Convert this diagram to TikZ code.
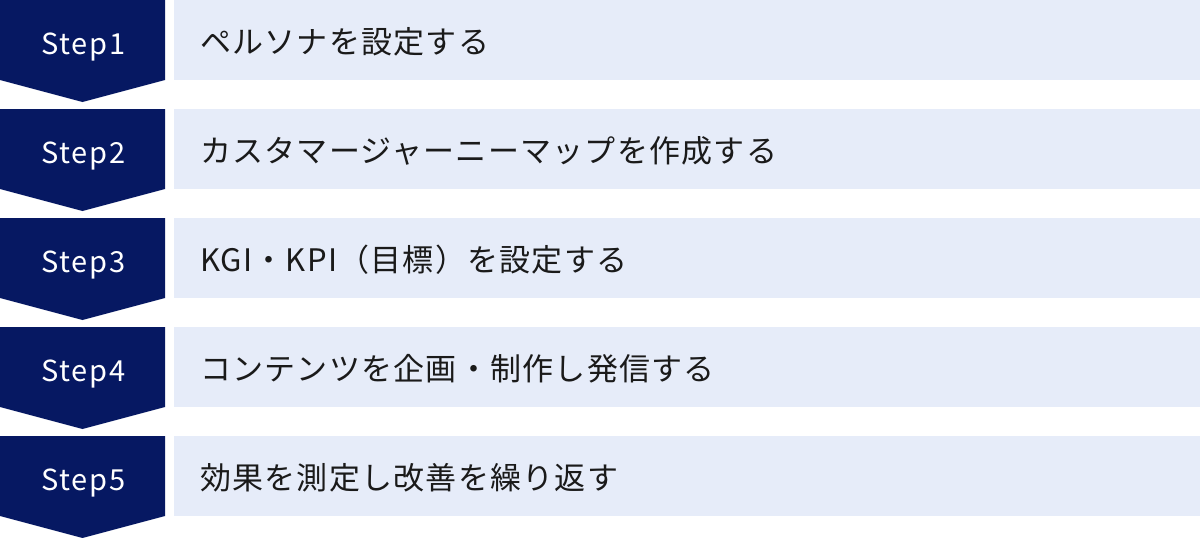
\documentclass[tikz,border=0pt]{standalone}
\usepackage{fontspec}
\newfontfamily\jpfont[LetterSpace=4]{Noto Sans CJK JP}
\newfontfamily\tagfont[LetterSpace=6]{Noto Sans CJK JP}
\usepackage{tikz}
\usetikzlibrary{positioning}

\definecolor{stepnavy}{RGB}{6,24,98}
\definecolor{boxblue}{RGB}{230,236,249}
\definecolor{inktext}{RGB}{26,26,26}

\tikzset{
  steptag/.style={text=white,inner sep=0pt,anchor=base,
    font=\tagfont\fontsize{29}{29}\selectfont},
  taskbox/.style={fill=boxblue,inner sep=0pt,anchor=north west,
    minimum width=1026pt,minimum height=80pt},
  tasklabel/.style={text=inktext,inner sep=0pt,anchor=west,
    font=\jpfont\fontsize{31}{31}\selectfont}
}

\begin{document}
\begin{tikzpicture}[x=1pt,y=-1pt]
  \useasboundingbox (0,0) rectangle (1200,538);
	% Step1
	\fill[stepnavy] (0,0) -- (165,0) -- (165,80) -- (82.5,102) -- (0,80) -- cycle;
	\node[taskbox] (box1) at (174,0) {};
	\node[steptag] (step1) at (83.5,54) {Step1};
	\node[tasklabel] (task1) at ([xshift=26pt,yshift=-1.5pt]box1.west) {ペルソナを設定する};
	% Step2
	\fill[stepnavy] (0,109) -- (165,109) -- (165,189) -- (82.5,211) -- (0,189) -- cycle;
	\node[taskbox] (box2) at (174,109) {};
	\node[steptag] (step2) at (83.5,163) {Step2};
	\node[tasklabel] (task2) at ([xshift=26pt,yshift=-1.5pt]box2.west) {カスタマージャーニーマップを作成する};
	% Step3
	\fill[stepnavy] (0,218) -- (165,218) -- (165,298) -- (82.5,320) -- (0,298) -- cycle;
	\node[taskbox] (box3) at (174,218) {};
	\node[steptag] (step3) at (83.5,272) {Step3};
	\node[tasklabel] (task3) at ([xshift=26pt,yshift=-1.5pt]box3.west) {KGI・KPI（目標）を設定する};
	% Step4
	\fill[stepnavy] (0,327) -- (165,327) -- (165,407) -- (82.5,429) -- (0,407) -- cycle;
	\node[taskbox] (box4) at (174,327) {};
	\node[steptag] (step4) at (83.5,381) {Step4};
	\node[tasklabel] (task4) at ([xshift=26pt,yshift=-1.5pt]box4.west) {コンテンツを企画・制作し発信する};
	% Step5
	\fill[stepnavy] (0,436) -- (165,436) -- (165,516) -- (82.5,538) -- (0,516) -- cycle;
	\node[taskbox] (box5) at (174,436) {};
	\node[steptag] (step5) at (83.5,490) {Step5};
	\node[tasklabel] (task5) at ([xshift=26pt,yshift=-1.5pt]box5.west) {効果を測定し改善を繰り返す};
\end{tikzpicture}
\end{document}
